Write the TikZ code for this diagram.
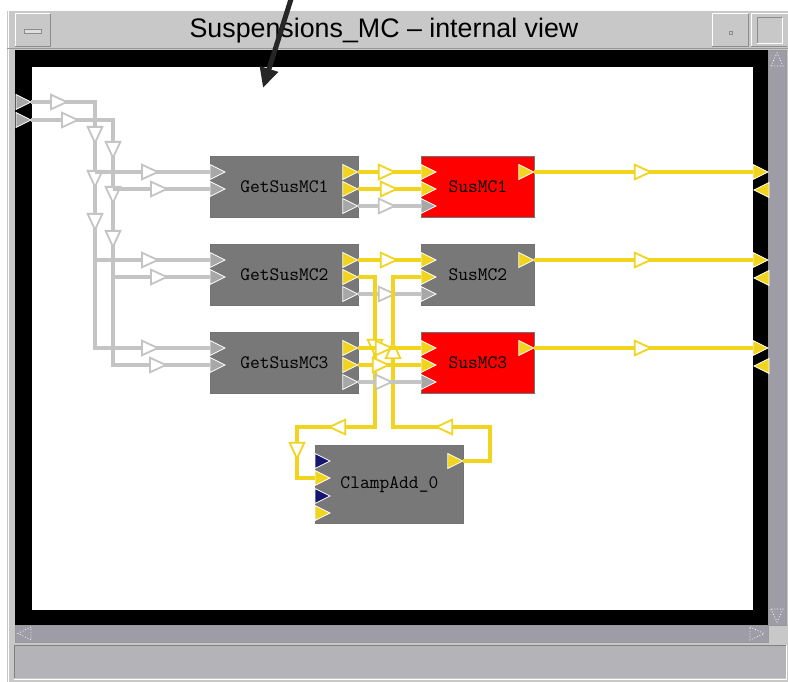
\documentclass[tikz,border=0pt]{standalone}
\usepackage{fontspec}
\usetikzlibrary{calc}
\usetikzlibrary{positioning}
\usetikzlibrary{shapes.geometric}
\usetikzlibrary{arrows.meta}
\usetikzlibrary{decorations.markings}
\setmainfont{Liberation Sans}
\definecolor{wireyellow}{RGB}{240,212,30}
\definecolor{wiregray}{RGB}{196,196,196}
\definecolor{blockgray}{RGB}{120,120,120}
\definecolor{chrome}{RGB}{200,200,200}
\definecolor{trough}{RGB}{158,156,166}
\definecolor{statusgray}{RGB}{180,180,184}
\definecolor{portblue}{RGB}{22,22,110}
\definecolor{susred}{RGB}{255,0,0}
\tikzset{
  oarr/.tip={Triangle[fill=white,length=19pt,width=17pt,line width=1.8pt]},
  mk/.style={postaction={decorate,decoration={markings,mark=at position #1 with {\arrow{oarr}}}}},
  ywire/.style={draw=wireyellow,line width=4.5pt},
  gwire/.style={draw=wiregray,line width=4.5pt},
  blk/.style={rectangle,fill=blockgray,draw=black!55,line width=0.8pt,minimum width=148pt,minimum height=61pt,anchor=north west,inner sep=0pt,font=\ttfamily\fontsize{19}{19}\selectfont},
  port/.style={isosceles triangle,isosceles triangle stretches,minimum width=15pt,minimum height=15pt,inner sep=0pt,outer sep=0pt,draw=white,line width=0.8pt,anchor=apex},
  yport/.style={port,fill=wireyellow},
  gport/.style={port,fill=wiregray!85!black},
  bport/.style={port,fill=portblue},
}
\begin{document}
\begin{tikzpicture}[x=1pt,y=-1pt]
    \useasboundingbox (0,0) rectangle (788,682);
    \fill[white] (0,0) rectangle (788,682);
    % window chrome
    \fill[chrome] (7,10) rectangle (788,682);
    \draw[white, line width=1pt] (7,11) -- (788,11);
    \draw[white, line width=1pt] (8,682) -- (8,11);
    \draw[white, line width=1pt] (15,47) -- (15,14) -- (50,14);
    \draw[black!45, line width=1pt] (15,47) -- (50,47) -- (50,14);
    \draw[black!45, fill=chrome!60!white] (24,29) rectangle (41,33);
    \draw[white, line width=1pt] (712,47) -- (712,14) -- (748,14);
    \draw[black!45, line width=1pt] (712,47) -- (748,47) -- (748,14);
    \draw[black!45] (729,31) rectangle (732,34);
    \draw[white, line width=1pt] (751,47) -- (751,14) -- (788,14);
    \draw[black!45, line width=1pt] (751,47) -- (787,47);
    \draw[black!45, line width=1pt] (757,44) -- (757,18) -- (782,18);
    \draw[white, line width=1pt] (757,44) -- (782,44) -- (782,18);
    \draw[black!40, line width=1pt] (7,48.5) -- (788,48.5);
    \node[font=\fontsize{26.8}{26.8}\selectfont, text=black] (title) at (384,31) {Suspensions\_MC -- internal view};
    \fill[black] (15,50) rectangle (768,625);
    \fill[white] (32,67) rectangle (753,610);
    % scroll bars and status line
    \fill[trough] (768,50) rectangle (786,625);
    \draw[black!40] (768,50) rectangle (786,625);
    \draw[white, dotted, line width=0.8pt] (771,66) -- (777,53) -- (783,66) -- cycle;
    \draw[white, dotted, line width=0.8pt] (771,609) -- (777,622) -- (783,609) -- cycle;
    \fill[trough] (15,625) rectangle (768,642);
    \draw[black!40] (15,625) rectangle (768,642);
    \draw[white, dotted, line width=0.8pt] (31,627) -- (18,633.5) -- (31,640) -- cycle;
    \draw[white, dotted, line width=0.8pt] (750,627) -- (764,633.5) -- (750,640) -- cycle;
    \fill[statusgray] (14,645) rectangle (786,678);
    \draw[black!50, line width=1pt] (14,678) -- (14,645) -- (786,645);
    \draw[white, line width=1pt] (14,679) -- (786,679) -- (786,645);

    % blocks
    \node[blk] (get1) at (210,156) {GetSusMC1};
    \node[blk] (get2) at (210,244) {GetSusMC2};
    \node[blk] (get3) at (210,332) {GetSusMC3};
    \node[blk, fill=susred, minimum width=113pt] (sus1) at (421,156) {SusMC1};
    \node[blk, minimum width=113pt] (sus2) at (421,244) {SusMC2};
    \node[blk, fill=susred, minimum width=113pt] (sus3) at (421,332) {SusMC3};
    \node[blk, minimum height=78pt] (clamp) at (315,445) {ClampAdd\_0};

    % ports
    \node[gport] (fi1) at (31,102) {};
    \node[gport] (fi2) at (31,120) {};
    \node[gport] (g1i1) at ($(get1.north west)+(15,16)$) {};
    \node[gport] (g1i2) at ($(get1.north west)+(15,33)$) {};
    \node[yport] (g1o1) at ($(get1.north east)+(-1,16)$) {};
    \node[yport] (g1o2) at ($(get1.north east)+(-1,33)$) {};
    \node[gport] (g1o3) at ($(get1.north east)+(-1,50)$) {};
    \node[gport] (g2i1) at ($(get2.north west)+(15,16)$) {};
    \node[gport] (g2i2) at ($(get2.north west)+(15,33)$) {};
    \node[yport] (g2o1) at ($(get2.north east)+(-1,16)$) {};
    \node[yport] (g2o2) at ($(get2.north east)+(-1,33)$) {};
    \node[gport] (g2o3) at ($(get2.north east)+(-1,50)$) {};
    \node[gport] (g3i1) at ($(get3.north west)+(15,16)$) {};
    \node[gport] (g3i2) at ($(get3.north west)+(15,33)$) {};
    \node[yport] (g3o1) at ($(get3.north east)+(-1,16)$) {};
    \node[yport] (g3o2) at ($(get3.north east)+(-1,33)$) {};
    \node[gport] (g3o3) at ($(get3.north east)+(-1,50)$) {};
    \node[yport] (s1i1) at ($(sus1.north west)+(15,16)$) {};
    \node[yport] (s1i2) at ($(sus1.north west)+(15,33)$) {};
    \node[gport] (s1i3) at ($(sus1.north west)+(15,50)$) {};
    \node[yport] (s1o) at ($(sus1.north east)+(-1,16)$) {};
    \node[yport] (s2i1) at ($(sus2.north west)+(15,16)$) {};
    \node[yport] (s2i2) at ($(sus2.north west)+(15,33)$) {};
    \node[gport] (s2i3) at ($(sus2.north west)+(15,50)$) {};
    \node[yport] (s2o) at ($(sus2.north east)+(-1,16)$) {};
    \node[yport] (s3i1) at ($(sus3.north west)+(15,16)$) {};
    \node[yport] (s3i2) at ($(sus3.north west)+(15,33)$) {};
    \node[gport] (s3i3) at ($(sus3.north west)+(15,50)$) {};
    \node[yport] (s3o) at ($(sus3.north east)+(-1,16)$) {};
    \node[bport] (ci1) at ($(clamp.north west)+(15,16)$) {};
    \node[yport] (ci2) at ($(clamp.north west)+(15,33)$) {};
    \node[bport] (ci3) at ($(clamp.north west)+(15,51)$) {};
    \node[yport] (ci4) at ($(clamp.north west)+(15,68)$) {};
    \node[yport] (co) at ($(clamp.north east)+(-1,16)$) {};
    \node[yport] (fo1) at (768,172) {};
    \node[yport, shape border rotate=180] (fb1) at (754,190) {};
    \node[yport] (fo2) at (768,260) {};
    \node[yport, shape border rotate=180] (fb2) at (754,278) {};
    \node[yport] (fo3) at (768,348) {};
    \node[yport, shape border rotate=180] (fb3) at (754,366) {};

    % gray input buses
    \coordinate (busa) at (95,348);
    \coordinate (busb) at (113,365);
    \draw[gwire, mk=38pt, mk=107pt, mk=151pt, mk=194pt, mk=375pt] (fi1.apex) -| (busa) -- (g3i1.west);
    \draw[gwire, mk=49pt, mk=122pt, mk=167pt, mk=211pt, mk=382pt] (fi2.apex) -| (busb) -- (g3i2.west);
    \draw[gwire, mk=65pt] (g1i1.west -| busa) -- (g1i1.west);
    \draw[gwire, mk=56pt] (g1i2.west -| busb) -- (g1i2.west);
    \draw[gwire, mk=65pt] (g2i1.west -| busa) -- (g2i1.west);
    \draw[gwire, mk=56pt] (g2i2.west -| busb) -- (g2i2.west);

    % get -> sus
    \draw[ywire, mk=39pt] (g1o1.apex) -- (s1i1.west);
    \draw[ywire, mk=41pt] (g1o2.apex) -- (s1i2.west);
    \draw[gwire, mk=39pt] (g1o3.apex) -- (s1i3.west);
    \draw[ywire, mk=41pt] (g2o1.apex) -- (s2i1.west);
    \draw[gwire, mk=39pt] (g2o3.apex) -- (s2i3.west);

    % clamp loop
    \coordinate (lpa) at (375,427);
    \coordinate (lpb) at (297,427);
    \coordinate (lpc) at (490,427);
    \coordinate (lpd) at (393,427);
    \draw[ywire, mk=98pt, mk=215pt, mk=279pt] (g2o2.apex) -| (lpa) -- (lpb) |- (ci2.west);
    \draw[ywire, mk=117pt, mk=245pt] (co.apex) -| (lpc) -- (lpd) |- (s2i2.west);

    \draw[ywire, mk=36pt] (g3o1.apex) -- (s3i1.west);
    \draw[ywire, mk=33pt] (g3o2.apex) -- (s3i2.west);
    \draw[gwire, mk=36pt] (g3o3.apex) -- (s3i3.west);

    % sus -> frame
    \draw[ywire, mk=119pt] (s1o.apex) -- (fo1.west);
    \draw[ywire, mk=119pt] (s2o.apex) -- (fo2.west);
    \draw[ywire, mk=119pt] (s3o.apex) -- (fo3.west);

    % pointer
    \coordinate (ptrs) at (292,-4);
    \coordinate (ptre) at (263,88);
    \draw[black!85, line width=5pt, -{Triangle[length=20pt,width=18pt]}] (ptrs) -- (ptre);
\end{tikzpicture}
\end{document}
